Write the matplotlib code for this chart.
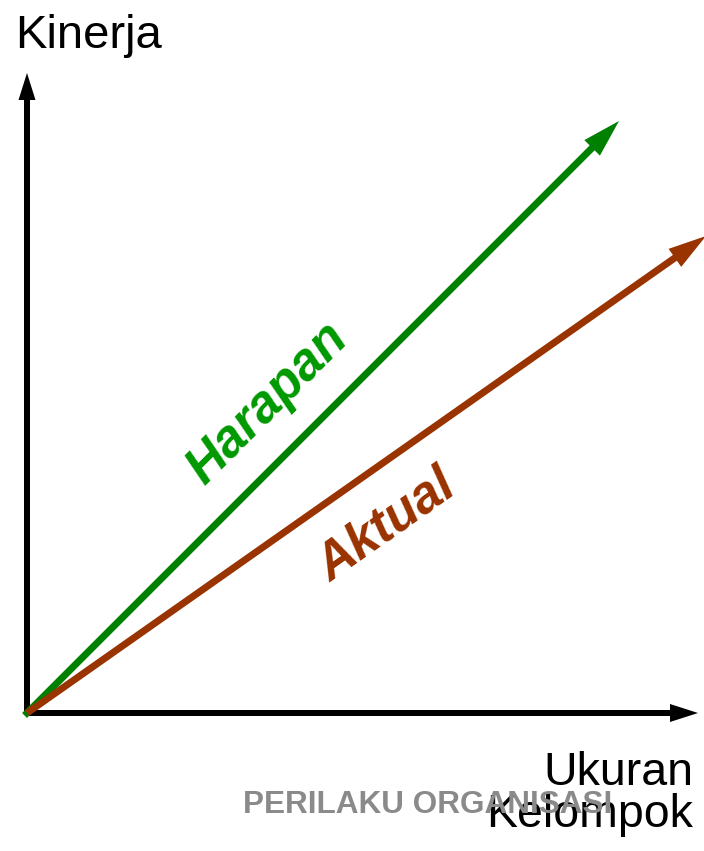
import numpy as np
import matplotlib
matplotlib.use("Agg")
import matplotlib.pyplot as plt
from matplotlib.patches import Polygon

# ---- data (diagram units: 1 unit = 1 px, origin at axes corner) ----
series_names = ["Harapan", "Aktual"]
series_end_x = [592, 679]
series_end_y = [592, 477]
series_colors = ["#008000", "#993300"]
label_colors = ["#009900", "#993300"]
label_pos_x = [177, 303]
label_pos_y = [227, 130]

axis_end_x = 671
axis_end_y = 640
y_axis_label = "Kinerja"
x_axis_label = ["Ukuran", "Kelompok"]
watermark = "PERILAKU ORGANISASI"

plt.rcParams['font.family'] = ['Liberation Sans', 'DejaVu Sans']

W, H = 704, 851
ox, oy = 27, 713  # pixel location of origin
fig = plt.figure(figsize=(W / 100, H / 100), dpi=100)
ax = fig.add_axes([0, 0, 1, 1])
ax.set_xlim(-ox, W - ox)
ax.set_ylim(-(H - oy), oy)
ax.axis("off")

PT = 72 / 100  # px -> pt


def arrow(x0, y0, x1, y1, color, lw_px, head_len, head_w, z, cap="butt"):
    d = np.array([x1 - x0, y1 - y0], float)
    L = np.hypot(*d)
    u = d / L
    n = np.array([-u[1], u[0]])
    base = np.array([x1, y1]) - u * head_len
    shaft_end = base + u * 2
    ax.plot([x0, shaft_end[0]], [y0, shaft_end[1]], color=color,
            lw=lw_px * PT, solid_capstyle=cap, zorder=z)
    pts = [(x1, y1), tuple(base + n * head_w / 2), tuple(base - n * head_w / 2)]
    ax.add_patch(Polygon(pts, closed=True, facecolor=color, edgecolor="none", zorder=z))


# axes
arrow(0, 0, axis_end_x, 0, "black", 6, 28, 18, 2, cap="round")
arrow(0, 0, 0, axis_end_y, "black", 6, 27, 17, 2, cap="round")

# series arrows
for i in range(len(series_names)):
    arrow(0, 0, series_end_x[i], series_end_y[i], series_colors[i], 7, 38, 22, 3 + i,
          cap="projecting" if i == 0 else "butt")
    ang = np.degrees(np.arctan2(series_end_y[i], series_end_x[i]))
    ax.text(label_pos_x[i], label_pos_y[i], series_names[i], color=label_colors[i],
            fontsize=37, fontweight="bold", fontstyle="italic", rotation=ang,
            rotation_mode="anchor", ha="left", va="baseline", zorder=5)

# axis labels
ax.text(-12, 665, y_axis_label, fontsize=34, ha="left", va="baseline", color="black")
ax.text(666, -72, x_axis_label[0], fontsize=33.5, ha="right", va="baseline", color="black")
ax.text(666, -114, x_axis_label[1], fontsize=33.5, ha="right", va="baseline", color="black")
ax.text(216, -100, watermark, fontsize=22.7, fontweight="bold", color="#8a8a8a",
        ha="left", va="baseline", zorder=6)

fig.savefig("out.png", dpi=100)
